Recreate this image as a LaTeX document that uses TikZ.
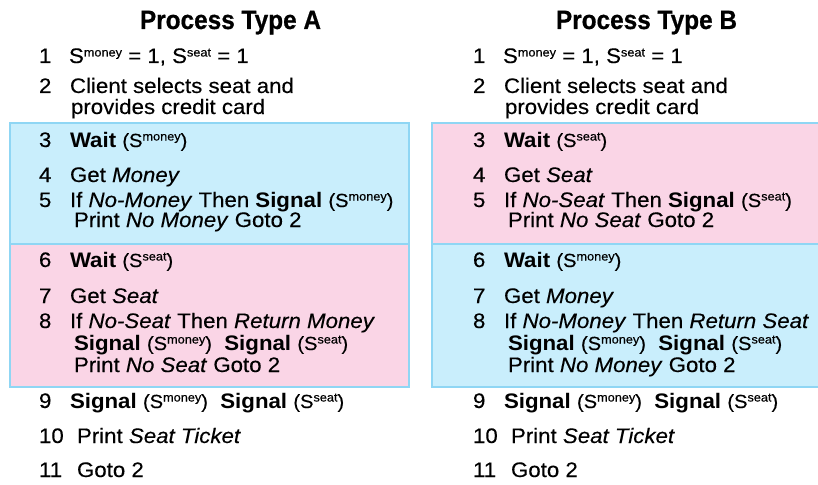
\documentclass[tikz,border=0pt]{standalone}
\usepackage{fontspec}
\setmainfont{Liberation Sans}[FakeStretch=1.06, UprightFeatures={FakeBold=0.3}, ItalicFeatures={FakeBold=0.3}]
\newfontfamily\titlefont{Liberation Sans}[FakeStretch=0.92, BoldFeatures={FakeBold=0.6}]
\definecolor{boxblue}{HTML}{C9EEFC}
\definecolor{boxpink}{HTML}{FAD5E6}
\definecolor{edgeblue}{HTML}{8FD6F4}
\newcommand{\Sx}[1]{S\raisebox{6.5pt}{\fontsize{12}{12}\selectfont #1}}
\newcommand{\PS}[1]{{\fontsize{19}{19}\selectfont(\Sx{#1})}}
\begin{document}
\begin{tikzpicture}[x=1pt,y=-1pt,
  every node/.style={inner sep=0pt, outer sep=0pt, font=\fontsize{21}{24}\selectfont},
  num/.style={anchor=base west},
  txt/.style={anchor=base west},
  ttl/.style={anchor=base, font=\titlefont\bfseries\fontsize{26.5}{30}\selectfont},
  blk/.style={draw=edgeblue, line width=1.4pt}]
\useasboundingbox (0,0) rectangle (818,484);
% boxes
\fill[boxblue] (10,123) rectangle (409,244);
\fill[boxpink] (10,244) rectangle (409,387);
\fill[boxpink] (432,123) rectangle (830,244);
\fill[boxblue] (432,244) rectangle (830,387);
\draw[blk] (10,123) rectangle (409,244);
\draw[blk] (10,244) rectangle (409,387);
\draw[blk] (432,123) rectangle (830,244);
\draw[blk] (432,244) rectangle (830,387);
% ---------------- Process Type A
\node[ttl] (ta) at (230.5,29) {Process Type A};
\node[num] (a1n) at (39,63) {1};
\node[txt] (a1) at (69,63) {\Sx{money} = 1, \Sx{seat} = 1};
\node[num] (a2n) at (39,93) {2};
\node[txt] (a2) at (70,93) {Client selects seat and};
\node[txt] (a2b) at (71,114) {provides credit card};
\node[num] (a3n) at (39,147) {3};
\node[txt] (a3) at (70,147) {\textbf{Wait} \PS{money}};
\node[num] (a4n) at (39,182) {4};
\node[txt] (a4) at (70,182) {Get \textit{Money}};
\node[num] (a5n) at (39,207) {5};
\node[txt] (a5) at (70,207) {If \textit{No-Money} Then \textbf{Signal} \PS{money}};
\node[txt] (a5b) at (74,227) {Print \textit{No Money} Goto 2};
\node[num] (a6n) at (39,267) {6};
\node[txt] (a6) at (70,267) {\textbf{Wait} \PS{seat}};
\node[num] (a7n) at (39,303) {7};
\node[txt] (a7) at (70,303) {Get \textit{Seat}};
\node[num] (a8n) at (39,328) {8};
\node[txt] (a8) at (70,328) {If \textit{No-Seat} Then \textit{Return Money}};
\node[txt] (a8b) at (74,350) {\textbf{Signal} \PS{money}\ \ \textbf{Signal} \PS{seat}};
\node[txt] (a8c) at (74,372) {Print \textit{No Seat} Goto 2};
\node[num] (a9n) at (39,408) {9};
\node[txt] (a9) at (70,408) {\textbf{Signal} \PS{money}\ \ \textbf{Signal} \PS{seat}};
\node[num] (a10n) at (39,443) {10};
\node[txt] (a10) at (77,443) {Print \textit{Seat Ticket}};
\node[num] (a11n) at (39,477) {11};
\node[txt] (a11) at (77,477) {Goto 2};
% ---------------- Process Type B
\node[ttl] (tb) at (646.5,29) {Process Type B};
\node[num] (b1n) at (473,63) {1};
\node[txt] (b1) at (503,63) {\Sx{money} = 1, \Sx{seat} = 1};
\node[num] (b2n) at (473,93) {2};
\node[txt] (b2) at (504,93) {Client selects seat and};
\node[txt] (b2b) at (505,114) {provides credit card};
\node[num] (b3n) at (473,147) {3};
\node[txt] (b3) at (504,147) {\textbf{Wait} \PS{seat}};
\node[num] (b4n) at (473,182) {4};
\node[txt] (b4) at (504,182) {Get \textit{Seat}};
\node[num] (b5n) at (473,207) {5};
\node[txt] (b5) at (504,207) {If \textit{No-Seat} Then \textbf{Signal} \PS{seat}};
\node[txt] (b5b) at (508,227) {Print \textit{No Seat} Goto 2};
\node[num] (b6n) at (473,267) {6};
\node[txt] (b6) at (504,267) {\textbf{Wait} \PS{money}};
\node[num] (b7n) at (473,303) {7};
\node[txt] (b7) at (504,303) {Get \textit{Money}};
\node[num] (b8n) at (473,328) {8};
\node[txt] (b8) at (504,328) {If \textit{No-Money} Then \textit{Return Seat}};
\node[txt] (b8b) at (508,350) {\textbf{Signal} \PS{money}\ \ \textbf{Signal} \PS{seat}};
\node[txt] (b8c) at (508,372) {Print \textit{No Money} Goto 2};
\node[num] (b9n) at (473,408) {9};
\node[txt] (b9) at (504,408) {\textbf{Signal} \PS{money}\ \ \textbf{Signal} \PS{seat}};
\node[num] (b10n) at (473,443) {10};
\node[txt] (b10) at (511,443) {Print \textit{Seat Ticket}};
\node[num] (b11n) at (473,477) {11};
\node[txt] (b11) at (511,477) {Goto 2};
\end{tikzpicture}
\end{document}
